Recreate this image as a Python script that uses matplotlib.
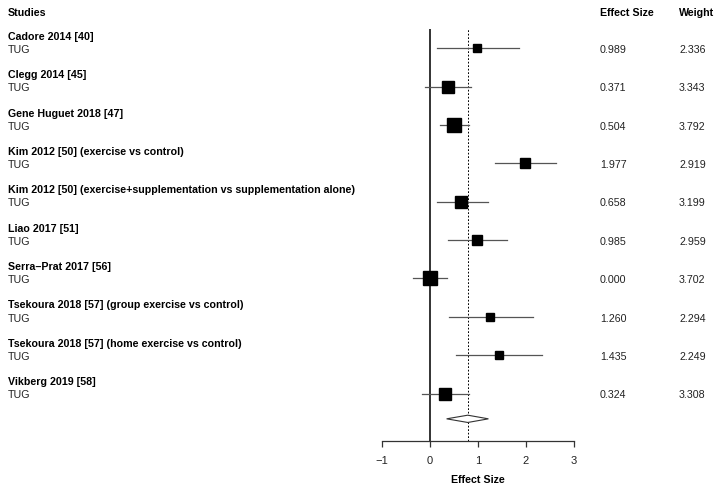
import matplotlib
matplotlib.use("Agg")
import matplotlib.pyplot as plt
import matplotlib.transforms as mtransforms
from matplotlib.patches import Polygon

plt.rcParams['font.family'] = ['Liberation Sans', 'DejaVu Sans']

studies = ["Cadore 2014 [40]", "Clegg 2014 [45]", "Gene Huguet 2018 [47]",
           "Kim 2012 [50] (exercise vs control)",
           "Kim 2012 [50] (exercise+supplementation vs supplementation alone)",
           "Liao 2017 [51]", "Serra\u2013Prat 2017 [56]",
           "Tsekoura 2018 [57] (group exercise vs control)",
           "Tsekoura 2018 [57] (home exercise vs control)",
           "Vikberg 2019 [58]"]
outcome = ["TUG"] * 10
effect = [0.989, 0.371, 0.504, 1.977, 0.658, 0.985, 0.000, 1.260, 1.435, 0.324]
ci_low = [0.15, -0.10, 0.22, 1.36, 0.14, 0.37, -0.34, 0.39, 0.55, -0.16]
ci_high = [1.85, 0.86, 0.81, 2.62, 1.21, 1.60, 0.36, 2.14, 2.34, 0.82]
weight = [2.336, 3.343, 3.792, 2.919, 3.199, 2.959, 3.702, 2.294, 2.249, 3.308]
summary_est = 0.79
summary_low = 0.35
summary_high = 1.22
xticks = [-1, 0, 1, 2, 3]

W, H = 719, 489
fig = plt.figure(figsize=(W / 100, H / 100), dpi=100)
left = 381.7 / W
width = (574.0 - 381.7) / W
bottom = 1 - 441.7 / H
height = (441.7 - 30.0) / H
ax = fig.add_axes([left, bottom, width, height])
ax.set_xlim(-1, 3)
ax.set_ylim(10.23, -0.5)

n = len(effect)
rows = list(range(n))
fs = 7.7
line_col = '#555555'

for i in rows:
    ax.plot([ci_low[i], ci_high[i]], [i, i], color=line_col, lw=0.9, zorder=2)
    ax.plot([effect[i]], [i], marker='s', color='black',
            markersize=2.55 * weight[i], linestyle='none', zorder=3)

ax.axvline(0, color='#333333', lw=1.4, zorder=1)
ax.axvline(summary_est, color='black', lw=0.7, ls=(0, (1.8, 1.8)), zorder=1)

dy = 9.66
hh = 0.095
diamond = Polygon([[summary_low, dy], [summary_est, dy - hh],
                   [summary_high, dy], [summary_est, dy + hh]],
                  closed=True, facecolor='white', edgecolor='#333333', lw=0.8, zorder=4)
ax.add_patch(diamond)

for s in ['top', 'right', 'left']:
    ax.spines[s].set_visible(False)
ax.spines['bottom'].set_color('#333333')
ax.spines['bottom'].set_linewidth(0.9)
ax.set_yticks([])
ax.set_xticks(xticks)
ax.tick_params(axis='x', length=4, width=0.9, color='#333333', labelsize=fs + 0.3,
               pad=6, labelcolor='#222222')
ax.set_xlabel("Effect Size", fontsize=fs, fontweight='bold', labelpad=7)

trans = mtransforms.blended_transform_factory(fig.transFigure, ax.transData)
xs_lab = 8 / W
xs_es = 600 / W
xs_w = 679 / W
ax.text(xs_lab, -0.94, "Studies", transform=trans, fontsize=fs, fontweight='bold',
        va='center', ha='left', clip_on=False)
ax.text(xs_es, -0.94, "Effect Size", transform=trans, fontsize=fs, fontweight='bold',
        va='center', ha='left', clip_on=False)
ax.text(xs_w, -0.94, "Weight", transform=trans, fontsize=fs, fontweight='bold',
        va='center', ha='left', clip_on=False)
for i in rows:
    ax.text(xs_lab, i - 0.32, studies[i], transform=trans, fontsize=fs, fontweight='bold',
            va='center', ha='left', clip_on=False)
    ax.text(xs_lab, i + 0.02, outcome[i], transform=trans, fontsize=fs,
            va='center', ha='left', clip_on=False, color='#222222')
    ax.text(xs_es, i + 0.02, f"{effect[i]:.3f}", transform=trans, fontsize=fs,
            va='center', ha='left', clip_on=False, color='#222222')
    ax.text(xs_w, i + 0.02, f"{weight[i]:.3f}", transform=trans, fontsize=fs,
            va='center', ha='left', clip_on=False, color='#222222')

fig.savefig("out.png", dpi=100)
